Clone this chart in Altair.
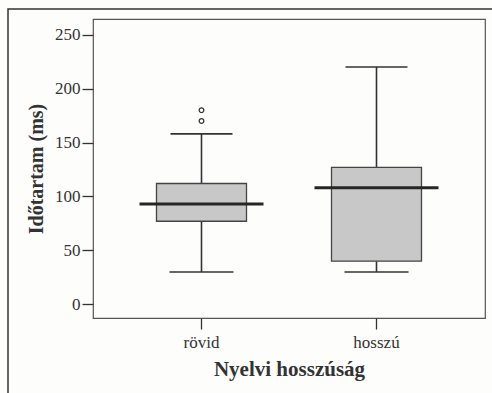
import altair as alt
import pandas as pd

# Box plot summary per group (ms)
groups = ["rövid", "hosszú"]
whisker_low = [30, 30]
q1 = [77, 40]
median = [93, 108]
q3 = [112, 127]
whisker_high = [158, 220]

# Outlying observations
outlier_group = ["rövid", "rövid"]
outlier_value = [170, 180]

y_ticks = [0, 50, 100, 150, 200, 250]

summary = pd.DataFrame({
    "group": groups,
    "lo": whisker_low,
    "q1": q1,
    "med": median,
    "q3": q3,
    "hi": whisker_high,
})
outliers = pd.DataFrame({"group": outlier_group, "value": outlier_value})

FONT = "Times New Roman, Liberation Serif, DejaVu Serif, serif"
INK = "#333333"

x_scale = alt.Scale(domain=groups, paddingInner=0, paddingOuter=0.12)
y_scale = alt.Scale(domain=[-12.7, 264.5], nice=False, zero=False)

x_enc = alt.X(
    "group:N",
    scale=x_scale,
    sort=groups,
    axis=alt.Axis(
        title="Nyelvi hosszúság",
        labelAngle=0,
        tickSize=11,
        labelPadding=5,
        domain=False,
        labelFontSize=17,
        titleFontSize=21,
        titlePadding=8,
    ),
)
y_axis = alt.Axis(
    title="Időtartam (ms)",
    values=y_ticks,
    tickSize=11,
    labelPadding=2,
    domain=False,
    grid=False,
    labelFontSize=17,
    titleFontSize=20,
    titlePadding=8,
)

base = alt.Chart(summary)

# Decorative figure border around the whole graphic
frame = base.mark_rect(fill=None, stroke=INK, strokeWidth=1.5).encode(
    x=alt.value(-85), x2=alt.value(430), y=alt.value(-10), y2=alt.value(420)
).transform_filter(alt.datum.group == groups[0])

lower_whisker = base.mark_rule(color=INK, strokeWidth=1.6).encode(
    x=x_enc,
    y=alt.Y("lo:Q", scale=y_scale, axis=y_axis),
    y2="q1:Q",
)
upper_whisker = base.mark_rule(color=INK, strokeWidth=1.6).encode(
    x=alt.X("group:N", sort=groups), y=alt.Y("q3:Q"), y2="hi:Q"
)
box = base.mark_bar(size=90, color="#c8c8c8", stroke="#444444", strokeWidth=1.3).encode(
    x=alt.X("group:N", sort=groups), y=alt.Y("q1:Q"), y2="q3:Q"
)
low_cap = base.mark_tick(orient="horizontal", size=64, thickness=1.6, color=INK, opacity=1).encode(
    x=alt.X("group:N", sort=groups), y=alt.Y("lo:Q")
)
high_cap = base.mark_tick(orient="horizontal", size=62, thickness=1.6, color=INK, opacity=1).encode(
    x=alt.X("group:N", sort=groups), y=alt.Y("hi:Q")
)
median_line = base.mark_tick(
    orient="horizontal", size=124, thickness=3, color="#262626", opacity=1
).encode(x=alt.X("group:N", sort=groups), y=alt.Y("med:Q"))
outlier_pts = alt.Chart(outliers).mark_point(
    shape="circle", size=22, filled=False, color=INK, strokeWidth=1.2, opacity=1
).encode(x=alt.X("group:N", sort=groups), y=alt.Y("value:Q"))

chart = (
    alt.layer(frame, lower_whisker, upper_whisker, box, low_cap, high_cap, median_line, outlier_pts)
    .properties(
        width=392,
        height=299,
        autosize=alt.AutoSizeParams(type="none"),
        padding={"left": 93, "top": 19, "right": 7, "bottom": 75},
        background="#fdfdfc",
    )
    .configure_view(stroke="#555555", strokeWidth=1.2)
    .configure_axis(
        labelFont=FONT,
        titleFont=FONT,
        labelColor=INK,
        titleColor=INK,
        tickColor=INK,
        tickWidth=1.3,
        titleFontWeight="bold",
    )
)

chart.save("out.html", embed_options={"renderer": "svg", "actions": False})
